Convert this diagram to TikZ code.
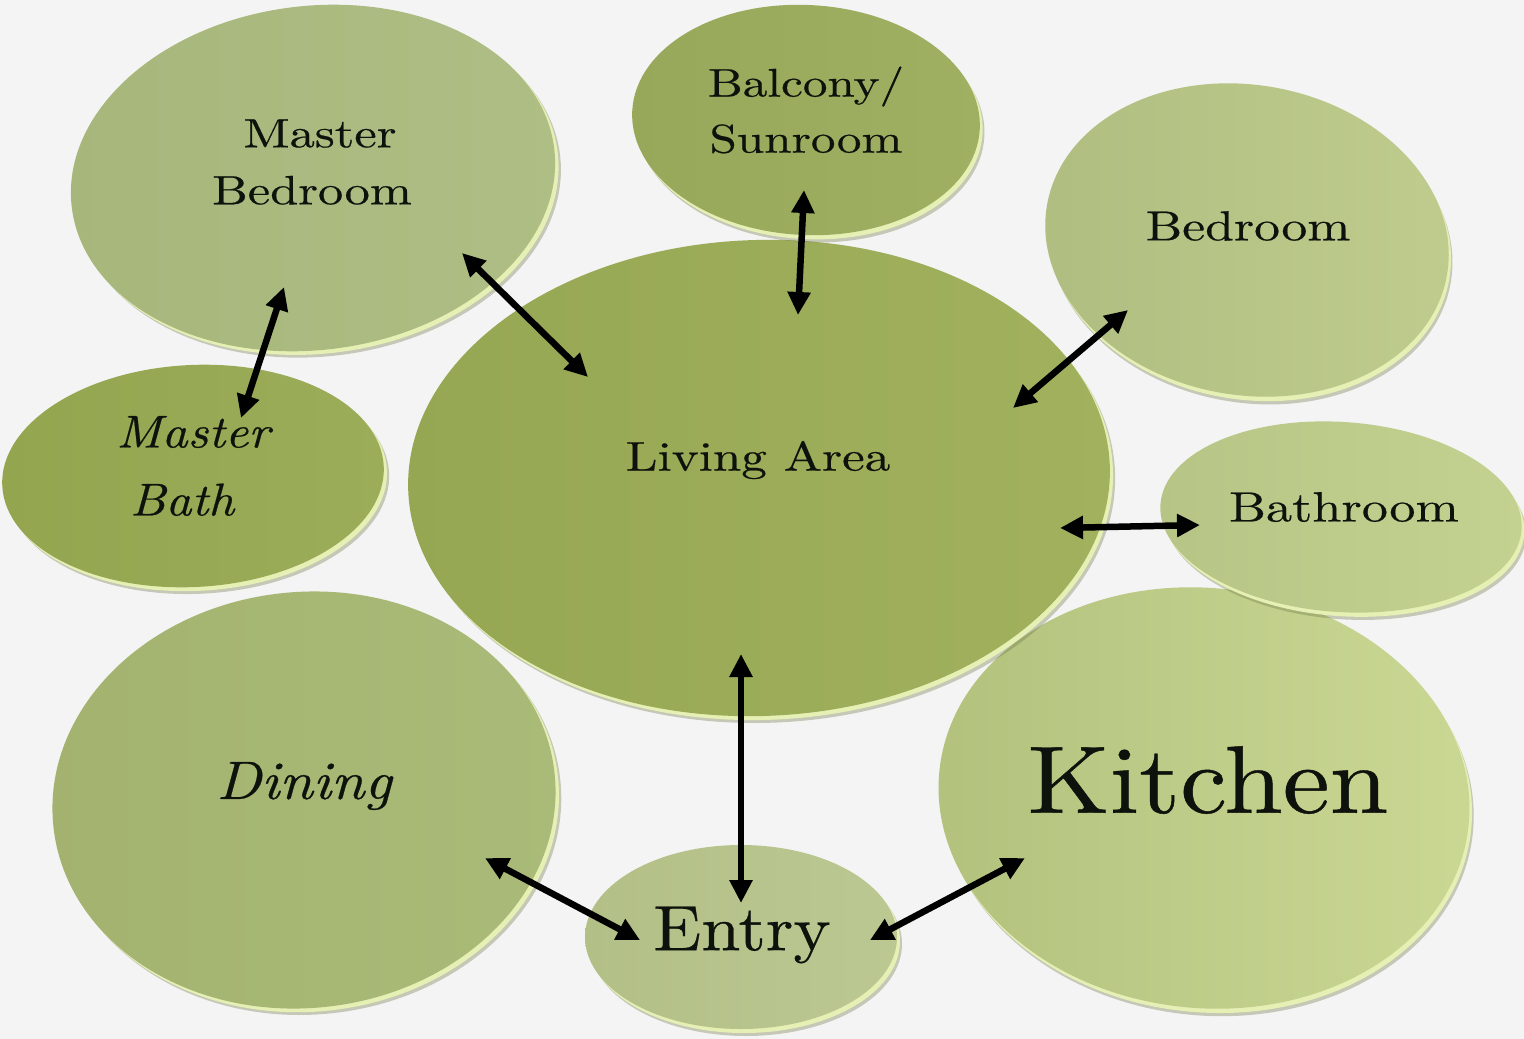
\documentclass[tikz,border=0pt]{standalone}
\usepackage{fontspec}
\usetikzlibrary{shapes.geometric,arrows.meta}
\newfontfamily\lblfont{lmroman10-regular.otf}[ItalicFont=lmroman10-italic.otf, FakeStretch=1.23, FakeBold=0.45]
\newfontfamily\bigfont{lmroman10-regular.otf}[ItalicFont=lmroman10-italic.otf, FakeStretch=1.10, FakeBold=0.45]
\definecolor{bgc}{HTML}{F4F4F4}
\definecolor{rimc}{HTML}{E6F0B4}
\definecolor{shadc}{HTML}{6E7548}
\definecolor{txtc}{HTML}{0E120C}
\definecolor{kiL}{HTML}{B2C27D}\definecolor{kiR}{HTML}{CAD894}
\definecolor{liL}{HTML}{96A754}\definecolor{liR}{HTML}{A1B15E}
\definecolor{mbL}{HTML}{A7B77C}\definecolor{mbR}{HTML}{AEBE84}
\definecolor{baL}{HTML}{98A85A}\definecolor{baR}{HTML}{A0B062}
\definecolor{beL}{HTML}{AFBE80}\definecolor{beR}{HTML}{BFCC8E}
\definecolor{mtL}{HTML}{94A550}\definecolor{mtR}{HTML}{9CAD5A}
\definecolor{btL}{HTML}{B6C585}\definecolor{btR}{HTML}{C4D291}
\definecolor{diL}{HTML}{A3B36F}\definecolor{diR}{HTML}{AABA78}
\definecolor{enL}{HTML}{B2BF86}\definecolor{enR}{HTML}{BCC892}
\tikzset{
  disc/.style={ellipse, draw=none, inner sep=0pt, outer sep=0pt},
  lbl/.style={align=center, inner sep=0pt, text=txtc, font={\lblfont\fontsize{42}{57}\selectfont}},
  conn/.style={line width=6.5pt, black, arrows={Triangle[length=23pt,width=22pt]-Triangle[length=23pt,width=22pt]}}
}
\newcommand\roomdisc[8]{%
  \begin{scope}[shift={(#2,#3)},rotate=#6]
    \fill[shadc,opacity=.35] (5,-7) ellipse [x radius=#4pt, y radius=#5pt];
    \fill[rimc] (3,-4) ellipse [x radius=#4pt, y radius=#5pt];
  \end{scope}
  \node[disc, minimum width={2*#4pt}, minimum height={2*#5pt}, rotate=#6, left color=#7, right color=#8] (#1) at (#2,#3) {};
}
\begin{document}
\begin{tikzpicture}[x=1pt,y=1pt]
\fill[bgc] (0,0) rectangle (1524,-1039);
\useasboundingbox (0,0) rectangle (1524,-1039);

% discs
\roomdisc{kit}{1204}{-798}{266}{210}{-6}{kiL}{kiR}
\roomdisc{liv}{759}{-478}{351}{238}{2}{liL}{liR}
\roomdisc{mbed}{313}{-178}{243}{172}{7}{mbL}{mbR}
\roomdisc{balc}{806}{-120}{174}{115}{-3}{baL}{baR}
\roomdisc{bed}{1247}{-240}{203}{155}{-10}{beL}{beR}
\roomdisc{mbath}{193}{-476}{191}{111}{3}{mtL}{mtR}
\roomdisc{bath}{1341}{-517}{181}{95}{-4}{btL}{btR}
\roomdisc{din}{304}{-800}{252}{208}{6}{diL}{diR}
\roomdisc{entry}{741}{-937}{156}{92}{0}{enL}{enR}

% labels
\node[lbl, font={\lblfont\fontsize{41}{57}\selectfont}] (mbed-t) at (312,-162) {\hspace*{16pt}Master\\Bedroom};
\node[lbl, font={\lblfont\fontsize{40}{56}\selectfont}] (balc-t) at (806,-110) {Balcony/\\Sunroom};
\node[lbl] (bed-t) at (1248,-226) {Bedroom};
\node[lbl, font={\bigfont\fontsize{46}{68}\selectfont\itshape}] (mbath-t) at (193,-466) {Master\\\hspace*{-22pt}Bath};
\node[lbl, font={\lblfont\fontsize{41.5}{57}\selectfont}] (liv-t) at (758,-460) {Living Area};
\node[lbl, font={\lblfont\fontsize{42.4}{57}\selectfont}] (bath-t) at (1344,-507) {Bathroom};
\node[lbl, font={\bigfont\fontsize{54}{60}\selectfont\itshape}] (din-t) at (304,-786) {Dining};
\node[lbl, font={\bigfont\fontsize{96}{110}\selectfont}] (kit-t) at (1208,-780) {Kitchen};
\node[lbl, font={\bigfont\fontsize{64}{70}\selectfont}] (entry-t) at (742,-935) {Entry};

% connector ends
\coordinate (mbed-a) at (284,-287);
\coordinate (mbath-a) at (241,-418);
\coordinate (mbed-b) at (462,-253);
\coordinate (liv-a) at (588,-377);
\coordinate (balc-a) at (804,-190);
\coordinate (liv-b) at (798,-315);
\coordinate (bed-a) at (1128,-310);
\coordinate (liv-c) at (1013,-408);
\coordinate (liv-d) at (1060,-528);
\coordinate (bath-a) at (1200,-525);
\coordinate (liv-e) at (741,-654);
\coordinate (entry-a) at (741,-903);
\coordinate (din-a) at (485,-858);
\coordinate (entry-b) at (640,-940);
\coordinate (entry-c) at (870,-940);
\coordinate (kit-a) at (1025,-858);

% connectors
\draw[conn] (mbed-a) -- (mbath-a);
\draw[conn] (mbed-b) -- (liv-a);
\draw[conn] (balc-a) -- (liv-b);
\draw[conn] (bed-a) -- (liv-c);
\draw[conn] (liv-d) -- (bath-a);
\draw[conn] (liv-e) -- (entry-a);
\draw[conn] (din-a) -- (entry-b);
\draw[conn] (entry-c) -- (kit-a);
\end{tikzpicture}
\end{document}
